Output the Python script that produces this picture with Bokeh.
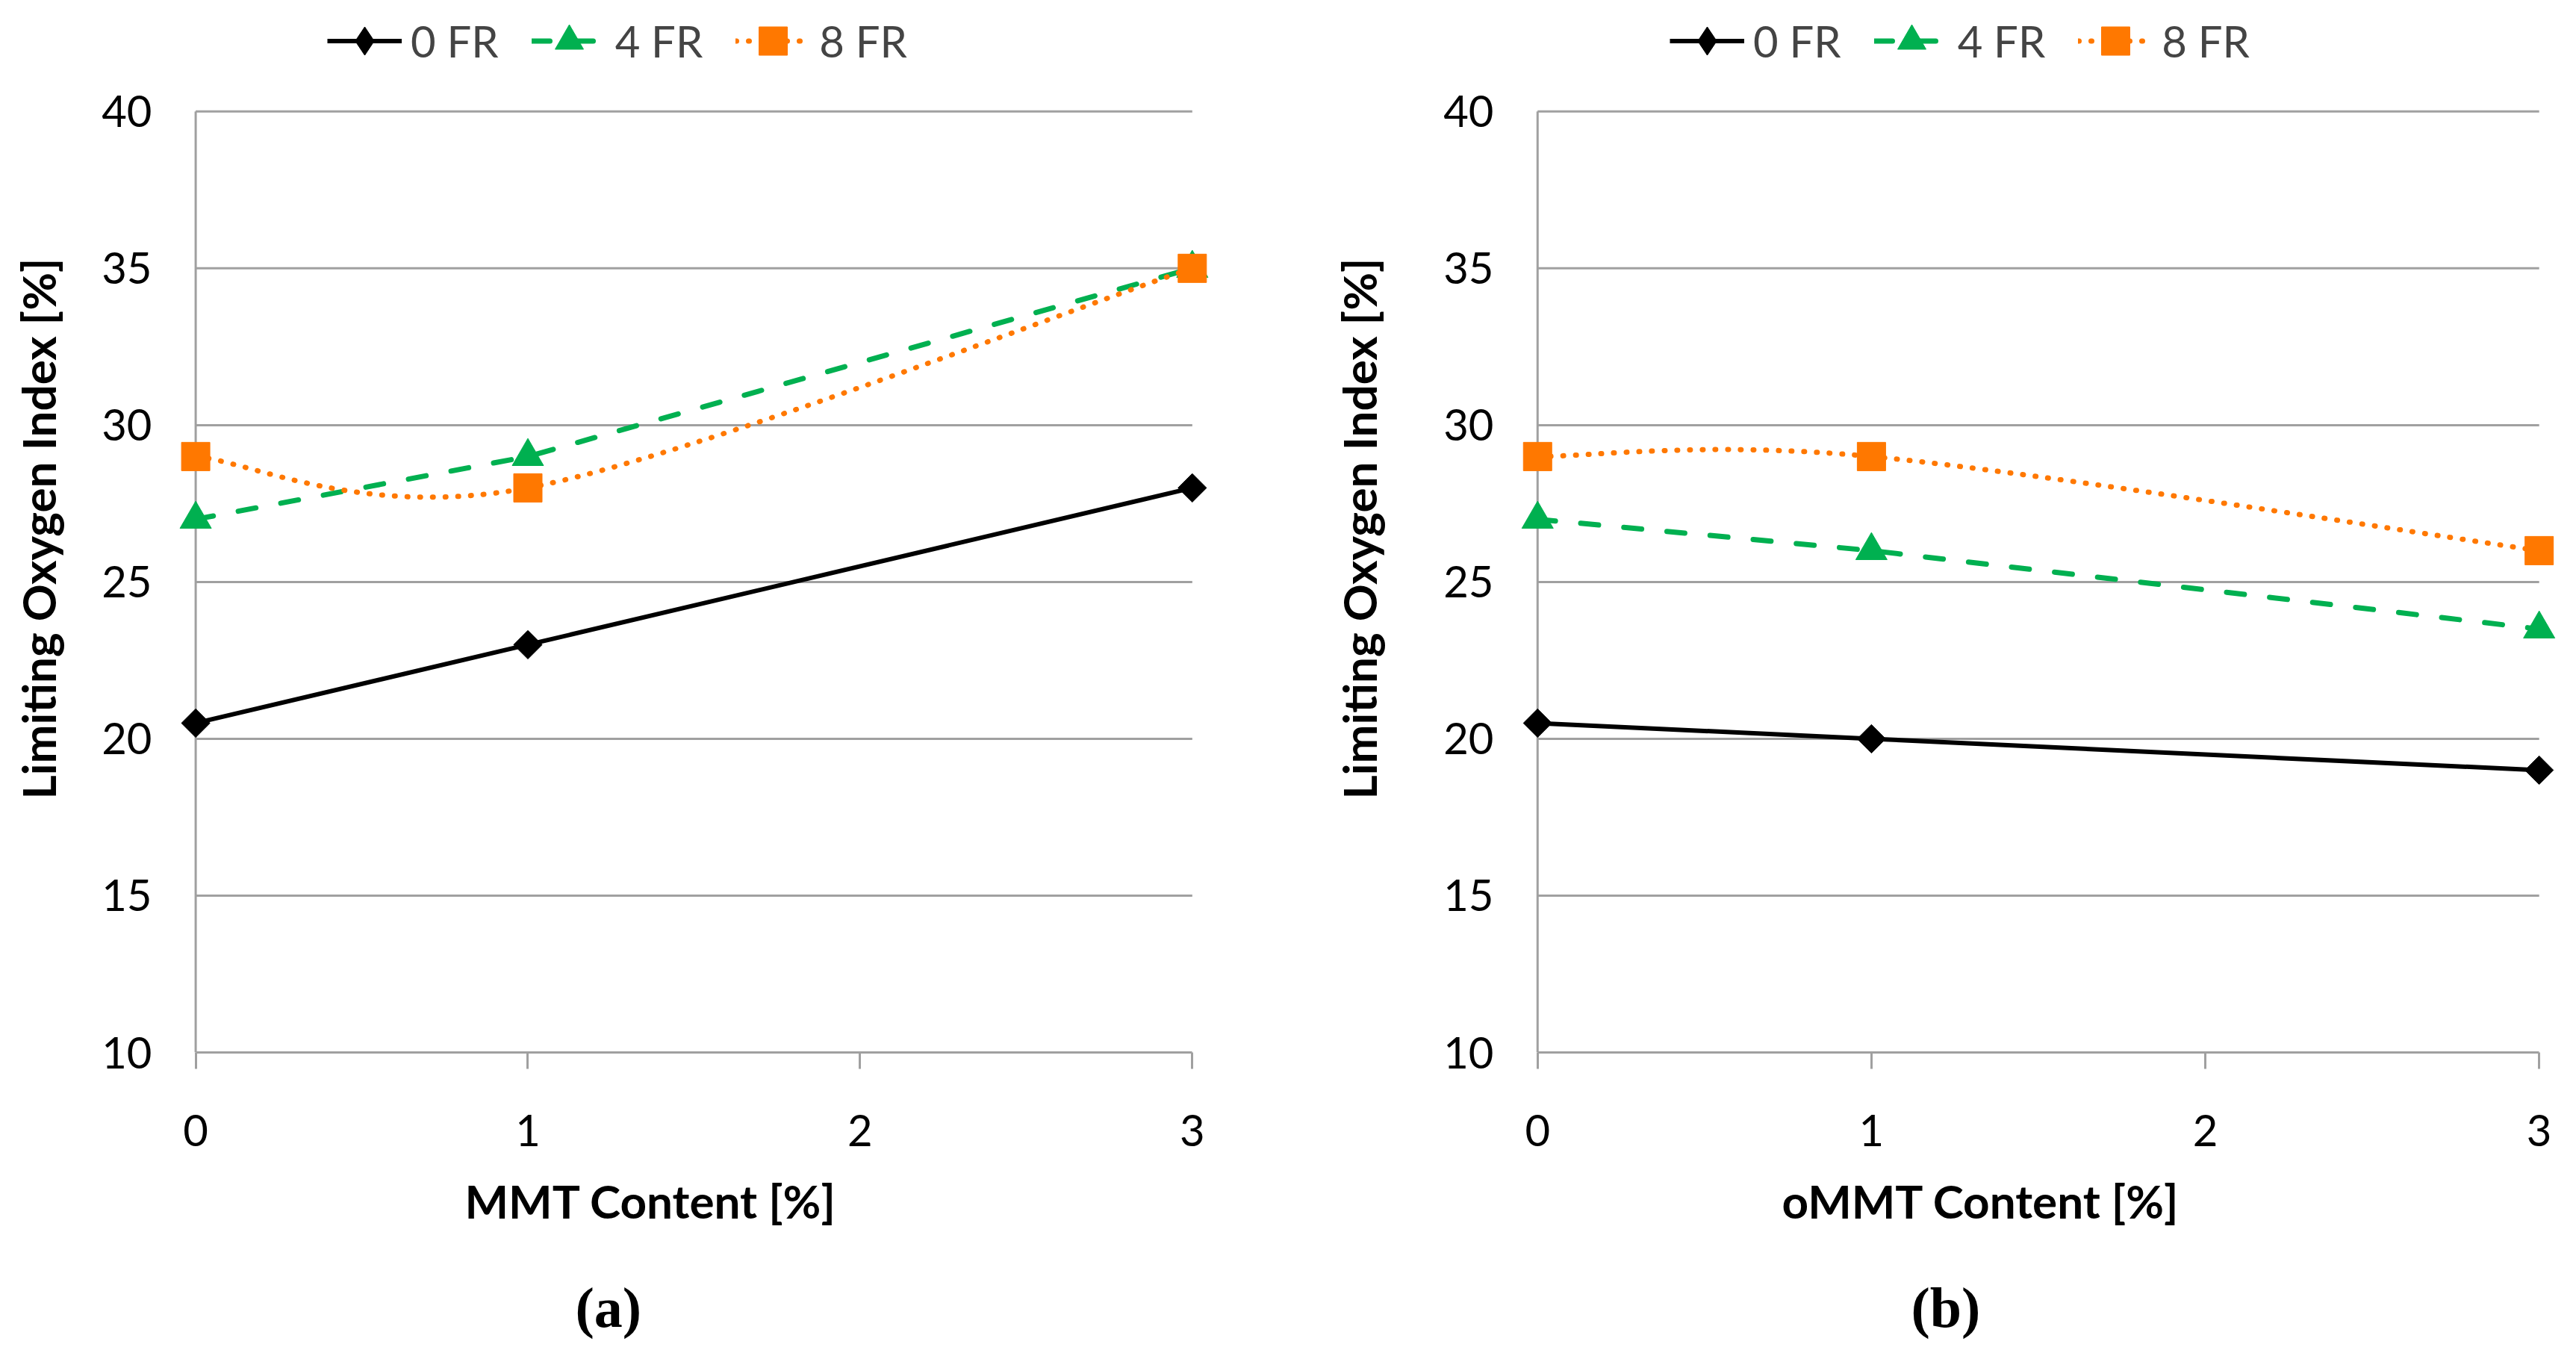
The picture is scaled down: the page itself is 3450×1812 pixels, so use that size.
import numpy as np
from bokeh.plotting import figure
from bokeh.models import Range1d, FixedTicker, Legend, LegendItem, Title, ColumnDataSource
from bokeh.layouts import row
from bokeh.embed import file_html
from bokeh.resources import INLINE

# ---------------- data ----------------
x_content = [0, 1, 3]
a_fr0 = [20.5, 23, 28]
a_fr4 = [27, 29, 35]
a_fr8 = [29, 28, 35]
b_fr0 = [20.5, 20, 19]
b_fr4 = [27, 26, 23.5]
b_fr8 = [29, 29, 26]
series_names = ["0 FR", "4 FR", "8 FR"]
x_ticks = [0, 1, 2, 3]
y_ticks = [10, 15, 20, 25, 30, 35, 40]
x_titles = ["MMT Content [%]", "oMMT Content [%]"]
y_title = "Limiting Oxygen Index [%]"
panel_tags = ["(a)", "(b)"]

GREEN = "#00B050"
ORANGE = "#FF7800"
GRID = "#A0A0A0"
FONT = "Lato"


def smooth_segments(xs, ys):
    """Excel-like smoothed line: cubic Bezier control points (Catmull-Rom, 1/6)."""
    xs = np.asarray(xs, float)
    ys = np.asarray(ys, float)
    n = len(xs)
    out = dict(x0=[], y0=[], x1=[], y1=[], cx0=[], cy0=[], cx1=[], cy1=[])
    for i in range(n - 1):
        ip = max(i - 1, 0)
        inx = min(i + 2, n - 1)
        out["x0"].append(xs[i]); out["y0"].append(ys[i])
        out["x1"].append(xs[i + 1]); out["y1"].append(ys[i + 1])
        out["cx0"].append(xs[i] + (xs[i + 1] - xs[ip]) / 6)
        out["cy0"].append(ys[i] + (ys[i + 1] - ys[ip]) / 6)
        out["cx1"].append(xs[i + 1] - (xs[inx] - xs[i]) / 6)
        out["cy1"].append(ys[i + 1] - (ys[inx] - ys[i]) / 6)
    return ColumnDataSource(out)


def make_panel(fr0, fr4, fr8, xtitle, tag, fw, bl, br, bt, legend_x, legend_y,
               ylab_standoff, title_off, tag_off):
    p = figure(frame_width=fw, frame_height=1403,
               x_range=Range1d(-0.08, 3.06), y_range=Range1d(10, 43.4),
               output_backend="svg", toolbar_location=None,
               min_border_left=bl, min_border_right=br, min_border_top=bt,
               min_border_bottom=0)
    p.outline_line_color = None
    p.xgrid.visible = False
    p.ygrid.visible = False
    p.background_fill_color = "white"
    p.border_fill_color = "white"

    # gridlines and y axis line, from the tick arrays
    gy = y_ticks[1:]
    p.segment(x0=[x_ticks[0]] * len(gy), x1=[x_ticks[-1]] * len(gy), y0=gy, y1=gy,
              line_color=GRID, line_width=3)
    p.segment(x0=[x_ticks[0]], x1=[x_ticks[0]], y0=[y_ticks[0]], y1=[y_ticks[-1]],
              line_color=GRID, line_width=3)

    # x axis
    xa = p.xaxis[0]
    xa.ticker = FixedTicker(ticks=x_ticks)
    xa.bounds = (x_ticks[0], x_ticks[-1])
    xa.axis_line_color = GRID
    xa.axis_line_width = 3
    xa.major_tick_line_color = GRID
    xa.major_tick_line_width = 3
    xa.major_tick_in = 0
    xa.major_tick_out = 22
    xa.minor_tick_in = 0
    xa.minor_tick_out = 0
    xa.major_label_text_font = FONT
    xa.major_label_text_font_size = "58px"
    xa.major_label_text_color = "black"
    xa.major_label_standoff = 61

    # y axis
    ya = p.yaxis[0]
    ya.ticker = FixedTicker(ticks=y_ticks)
    ya.axis_line_color = None
    ya.major_tick_line_color = None
    ya.minor_tick_line_color = None
    ya.major_tick_in = 0
    ya.major_tick_out = 0
    ya.minor_tick_in = 0
    ya.minor_tick_out = 0
    ya.major_label_text_font = FONT
    ya.major_label_text_font_size = "58px"
    ya.major_label_text_color = "black"
    ya.major_label_standoff = 23
    ya.axis_label = y_title
    ya.axis_label_text_font = FONT
    ya.axis_label_text_font_style = "bold"
    ya.axis_label_text_font_size = "62px"
    ya.axis_label_text_color = "black"
    ya.axis_label_standoff = ylab_standoff

    # series
    r0l = p.line(x_content, fr0, line_color="black", line_width=6)
    r0m = p.scatter(x_content, fr0, marker="square", angle=np.pi / 4, size=27,
                    fill_color="black", line_color="black")
    r4l = p.line(x_content, fr4, line_color=GREEN, line_width=7,
                 line_dash="24 34", line_cap="round")
    r4m = p.scatter(x_content, fr4, marker="triangle", size=42,
                    fill_color=GREEN, line_color=GREEN)
    r8l = p.bezier(x0="x0", y0="y0", x1="x1", y1="y1", cx0="cx0", cy0="cy0",
                   cx1="cx1", cy1="cy1", source=smooth_segments(x_content, fr8),
                   line_color=ORANGE, line_width=7, line_dash="1 16", line_cap="round")
    r8m = p.scatter(x_content, fr8, marker="square", size=38,
                    fill_color=ORANGE, line_color=ORANGE)
    # legend stand-in for the rotated-square marker (legend glyphs are not rotated);
    # its single point is NaN so it draws nothing in the plot area
    r0key = p.scatter(x=[float("nan")], y=[float("nan")], marker="diamond",
                      fill_color="black", line_color="black")

    legend = Legend(items=[LegendItem(label=series_names[0], renderers=[r0l, r0key]),
                           LegendItem(label=series_names[1], renderers=[r4l, r4m]),
                           LegendItem(label=series_names[2], renderers=[r8l, r8m])],
                    location=(legend_x, legend_y), orientation="horizontal",
                    glyph_width=100, glyph_height=95, label_height=42,
                    label_standoff=12, spacing=44, padding=0, margin=0,
                    border_line_color=None, background_fill_alpha=0,
                    label_text_font=FONT, label_text_font_size="58px",
                    label_text_baseline="middle")
    p.add_layout(legend)

    p.add_layout(Title(text=xtitle, align="left", offset=title_off, standoff=62,
                       text_font=FONT, text_font_size="62px", text_font_style="bold",
                       text_color="black"), "below")
    p.add_layout(Title(text=" ", align="left", standoff=22, text_font_size="2px"),
                 "below")
    p.add_layout(Title(text=tag, align="left", offset=tag_off, standoff=10,
                       text_font="Liberation Serif", text_font_size="76px",
                       text_font_style="bold", text_color="black"), "below")
    return p


pa = make_panel(a_fr0, a_fr4, a_fr8, x_titles[0], panel_tags[0],
                fw=1397, bl=226, br=94, bt=6,
                legend_x=212, legend_y=1307, ylab_standoff=45,
                title_off=396, tag_off=544)
pb = make_panel(b_fr0, b_fr4, b_fr8, x_titles[1], panel_tags[1],
                fw=1404, bl=306, br=3, bt=3,
                legend_x=213, legend_y=1307, ylab_standoff=73,
                title_off=363, tag_off=536)

layout = row(pa, pb)
open("out.html", "w").write(file_html(layout, INLINE, title="Limiting Oxygen Index"))
